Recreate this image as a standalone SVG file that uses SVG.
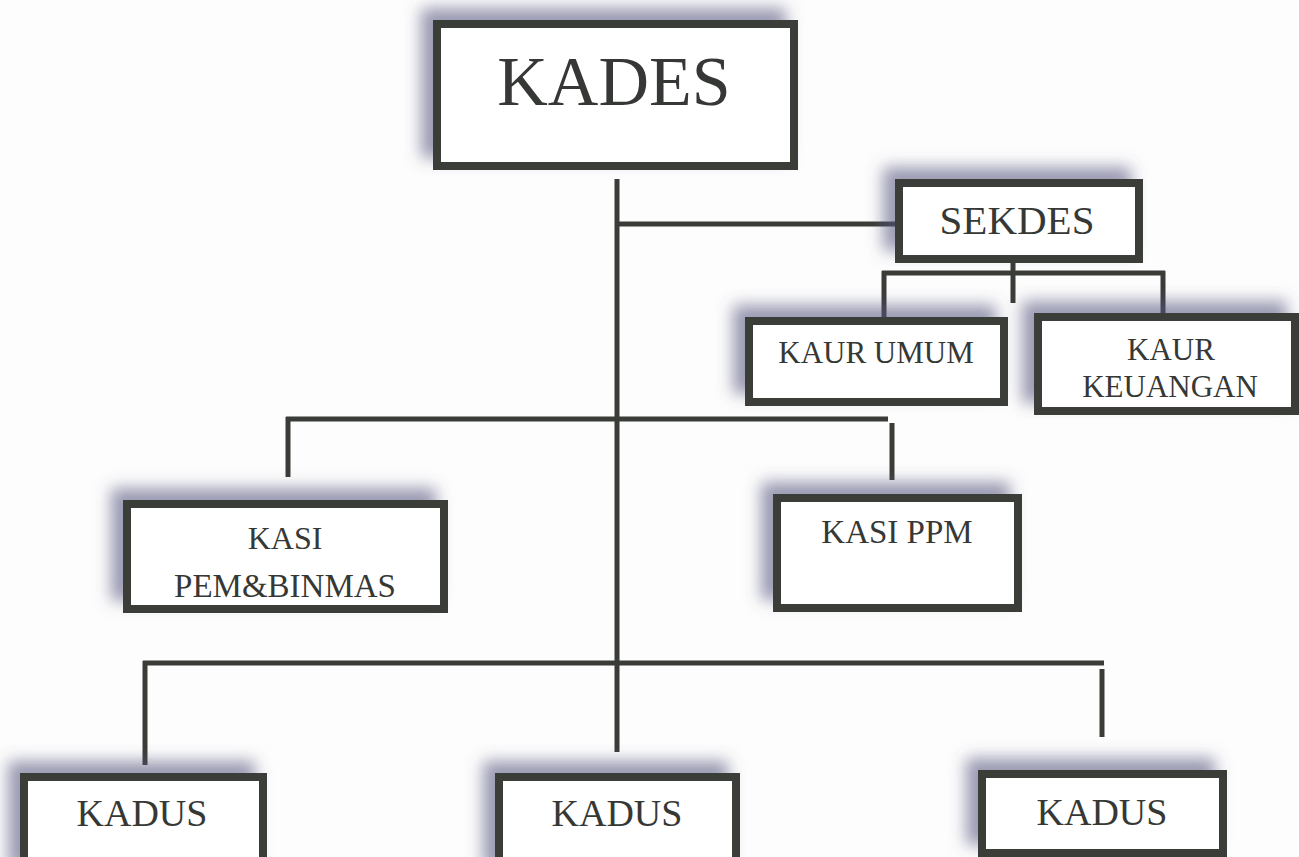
<svg xmlns="http://www.w3.org/2000/svg" width="1299" height="857" viewBox="0 0 1299 857">
  <style>
    .box { fill: #ffffff; stroke: #3a3c37; stroke-width: 8; filter: url(#sh); }
    .lbl { font-family: "Liberation Serif", "Times New Roman", serif; fill: #363835; text-anchor: middle; }
    .con { stroke: #3a3c37; stroke-width: 5; fill: none; stroke-linecap: butt; }
  </style>
  <defs>
    <filter id="sh" x="-25%" y="-50%" width="150%" height="200%">
      <feGaussianBlur in="SourceAlpha" stdDeviation="8"/>
      <feOffset dx="-12" dy="-12" result="b"/>
      <feFlood flood-color="#55557f" flood-opacity="0.6"/>
      <feComposite in2="b" operator="in"/>
      <feMerge>
        <feMergeNode/>
        <feMergeNode in="SourceGraphic"/>
      </feMerge>
    </filter>
  </defs>
  <rect x="0" y="0" width="1299" height="857" fill="#fdfdfd"/>

  <g id="connectors">
    <line class="con" x1="617" y1="179" x2="617" y2="752"/>
    <line class="con" x1="617" y1="224" x2="899" y2="224"/>
    <line class="con" x1="1013" y1="263" x2="1013" y2="303"/>
    <line class="con" x1="882" y1="273" x2="1165" y2="273"/>
    <line class="con" x1="884" y1="271" x2="884" y2="317"/>
    <line class="con" x1="1163" y1="271" x2="1163" y2="313"/>
    <line class="con" x1="286" y1="419" x2="888" y2="419"/>
    <line class="con" x1="288" y1="417" x2="288" y2="477"/>
    <line class="con" x1="892" y1="423" x2="892" y2="480"/>
    <line class="con" x1="143" y1="663" x2="1104" y2="663"/>
    <line class="con" x1="145" y1="661" x2="145" y2="765"/>
    <line class="con" x1="1102" y1="669" x2="1102" y2="737"/>
  </g>

  <g id="kades">
    <rect class="box" x="437" y="24" width="357" height="142"/>
    <text class="lbl" x="614" y="105" font-size="70">KADES</text>
  </g>
  <g id="sekdes">
    <rect class="box" x="899" y="183" width="240" height="76"/>
    <text class="lbl" x="1017" y="234" font-size="41">SEKDES</text>
  </g>
  <g id="kaur-umum">
    <rect class="box" x="749" y="321" width="255" height="81"/>
    <text class="lbl" x="876" y="363" font-size="31">KAUR UMUM</text>
  </g>
  <g id="kaur-keuangan">
    <rect class="box" x="1038" y="317" width="257" height="94"/>
    <text class="lbl" x="1171" y="360" font-size="31">KAUR</text>
    <text class="lbl" x="1170" y="397" font-size="31">KEUANGAN</text>
  </g>
  <g id="kasi-pem">
    <rect class="box" x="127" y="504" width="317" height="105"/>
    <text class="lbl" x="285" y="549" font-size="32">KASI</text>
    <text class="lbl" x="285" y="597" font-size="33">PEM&amp;BINMAS</text>
  </g>
  <g id="kasi-ppm">
    <rect class="box" x="777" y="498" width="241" height="110"/>
    <text class="lbl" x="897" y="543" font-size="33">KASI PPM</text>
  </g>
  <g id="kadus-1">
    <rect class="box" x="24" y="777" width="239" height="100"/>
    <text class="lbl" x="142" y="826" font-size="38">KADUS</text>
  </g>
  <g id="kadus-2">
    <rect class="box" x="499" y="777" width="237" height="100"/>
    <text class="lbl" x="617" y="826" font-size="38">KADUS</text>
  </g>
  <g id="kadus-3">
    <rect class="box" x="982" y="774" width="241" height="79"/>
    <text class="lbl" x="1102" y="825" font-size="38">KADUS</text>
  </g>
</svg>
